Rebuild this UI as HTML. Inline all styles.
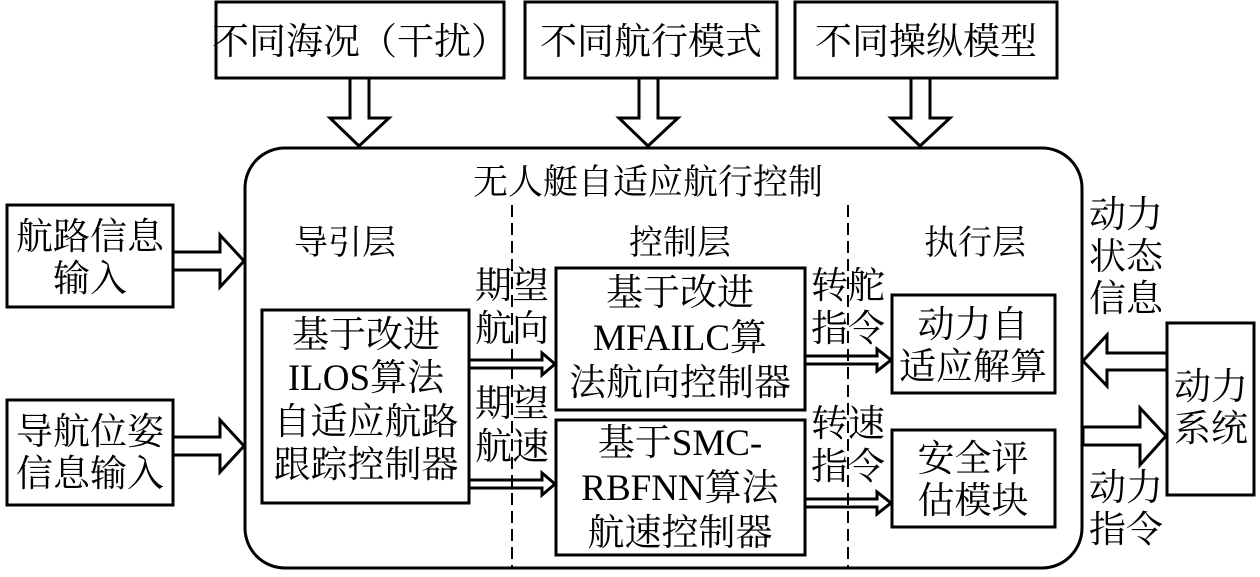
<!DOCTYPE html>
<html><head><meta charset="utf-8"><style>
html,body{margin:0;padding:0;background:#fff}
svg text{font-family:"Liberation Serif","Noto Serif CJK SC",serif;fill:#000}
</style></head><body>
<svg width="1260" height="572" viewBox="0 0 1260 572" xmlns="http://www.w3.org/2000/svg">
<g fill="none" stroke="#000" stroke-width="3">
<rect x="216" y="2" width="288" height="76"/>
<rect x="525" y="2" width="252" height="76"/>
<rect x="795" y="2" width="262" height="76"/>
<rect x="245" y="148" width="837" height="420" rx="40"/>
<rect x="7" y="205" width="166" height="102"/>
<rect x="7" y="400" width="166" height="105"/>
<rect x="262" y="310" width="207" height="193"/>
<rect x="556" y="268" width="249" height="142"/>
<rect x="556" y="420" width="249" height="135"/>
<rect x="892" y="295" width="163" height="98"/>
<rect x="892" y="430" width="163" height="97"/>
<rect x="1167" y="323" width="87" height="172"/>
</g>
<g fill="#fff" stroke="#000" stroke-width="3" stroke-linejoin="miter">
<polygon points="350,78 369,78 369,118 389,118 359,146 330,118 350,118"/>
<polygon points="639,78 658,78 658,118 678,118 648,146 619,118 639,118"/>
<polygon points="911,78 930,78 930,118 950,118 920,146 891,118 911,118"/>
<polygon points="173,252 220,252 220,235 244,261 220,287 220,270 173,270"/>
<polygon points="173,437 220,437 220,420 244,446 220,472 220,455 173,455"/>
<polygon points="1167,353 1107,353 1107,335 1083,361 1107,386 1107,370 1167,370"/>
<polygon points="1083,427 1140,427 1140,408 1166,436 1140,465 1140,445 1083,445"/>
<polygon points="469,360 542,360 542,353 555,364 542,375 542,368 469,368"/>
<polygon points="469,480 542,480 542,473 555,484 542,495 542,488 469,488"/>
<polygon points="805,356 877,356 877,349 891,360 877,371 877,364 805,364"/>
<polygon points="805,499 877,499 877,492 891,503 877,514 877,507 805,507"/>
</g>
<g stroke="#000" stroke-width="2" stroke-dasharray="12,6">
<line x1="512" y1="205" x2="512" y2="568"/>
<line x1="848" y1="205" x2="848" y2="568"/>
</g>
<g font-size="37">
<text x="360" y="54" text-anchor="middle">不同海况（干扰）</text>
<text x="651" y="54" text-anchor="middle">不同航行模式</text>
<text x="926" y="54" text-anchor="middle">不同操纵模型</text>
<text x="648" y="194" text-anchor="middle" font-size="35">无人艇自适应航行控制</text>
<text x="345" y="254" text-anchor="middle" font-size="34">导引层</text>
<text x="680" y="254" text-anchor="middle" font-size="34">控制层</text>
<text x="975" y="254" text-anchor="middle" font-size="34">执行层</text>
<text x="90" y="249" text-anchor="middle">航路信息</text>
<text x="90" y="291" text-anchor="middle">输入</text>
<text x="90" y="444" text-anchor="middle">导航位姿</text>
<text x="90" y="486" text-anchor="middle">信息输入</text>
<text x="366" y="347" text-anchor="middle">基于改进</text>
<text x="366" y="390" text-anchor="middle">ILOS算法</text>
<text x="366" y="434" text-anchor="middle">自适应航路</text>
<text x="366" y="477" text-anchor="middle">跟踪控制器</text>
<text x="512" y="298" text-anchor="middle">期望</text>
<text x="512" y="341" text-anchor="middle">航向</text>
<text x="512" y="416" text-anchor="middle">期望</text>
<text x="512" y="459" text-anchor="middle">航速</text>
<text x="680" y="305" text-anchor="middle">基于改进</text>
<text x="680" y="350" text-anchor="middle">MFAILC算</text>
<text x="680" y="395" text-anchor="middle">法航向控制器</text>
<text x="680" y="455" text-anchor="middle">基于SMC-</text>
<text x="680" y="500" text-anchor="middle">RBFNN算法</text>
<text x="680" y="545" text-anchor="middle">航速控制器</text>
<text x="848" y="298" text-anchor="middle">转舵</text>
<text x="848" y="341" text-anchor="middle">指令</text>
<text x="848" y="436" text-anchor="middle">转速</text>
<text x="848" y="479" text-anchor="middle">指令</text>
<text x="973" y="337" text-anchor="middle">动力自</text>
<text x="973" y="379" text-anchor="middle">适应解算</text>
<text x="973" y="471" text-anchor="middle">安全评</text>
<text x="973" y="513" text-anchor="middle">估模块</text>
<text x="1126" y="227" text-anchor="middle">动力</text>
<text x="1126" y="269" text-anchor="middle">状态</text>
<text x="1126" y="311" text-anchor="middle">信息</text>
<text x="1211" y="399" text-anchor="middle">动力</text>
<text x="1211" y="441" text-anchor="middle">系统</text>
<text x="1126" y="500" text-anchor="middle">动力</text>
<text x="1126" y="542" text-anchor="middle">指令</text>
</g>
</svg>
</body></html>
